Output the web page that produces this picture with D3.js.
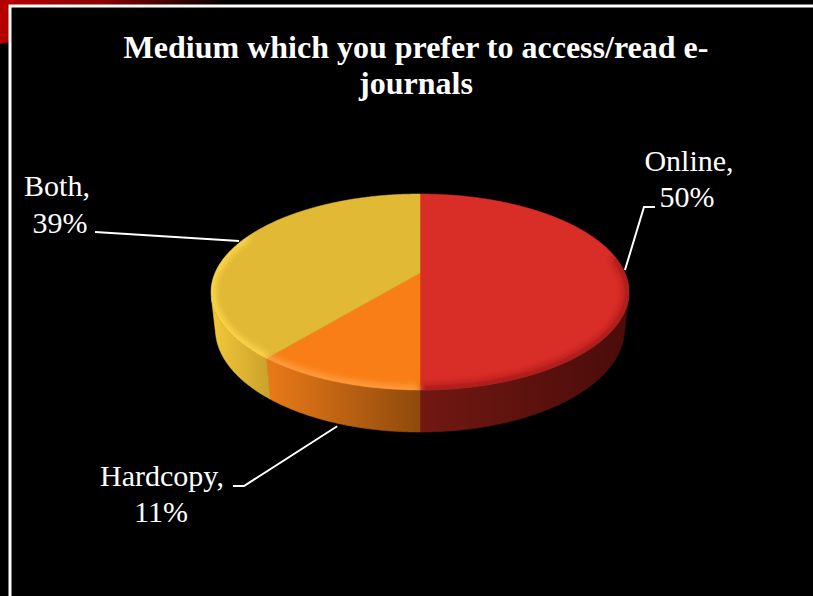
<!DOCTYPE html>
<html><head><meta charset="utf-8">
<script src="https://cdn.jsdelivr.net/npm/d3@7"></script>
<style>html,body{margin:0;padding:0;background:#000;overflow:hidden}</style>
</head><body>
<svg id="chart" width="813" height="596"></svg>
<script>
// ---- data ----
const titleLines = ["Medium which you prefer to access/read e-", "journals"];
const categories = ["Online", "Hardcopy", "Both"];
const values = [50, 11, 39];
const percentLabels = ["50%", "11%", "39%"];
const topColors = ["#d92d27", "#f97e17", "#e2b935"];
const sideColorsLight = ["#721812", "#ea7a18", "#f3c83b"];
const sideColorsDark = ["#4a0c0a", "#8e4a0c", "#cda42b"];
const rimColors = ["#9a1915", "#ffa448", "#ffdc50"];

// ---- layout ----
const W = 813, H0 = 596;
const svg = d3.select("#chart");
const defs = svg.append("defs");

// slide background corner
const cg = defs.append("linearGradient").attr("id", "corner").attr("gradientUnits", "userSpaceOnUse")
  .attr("x1", 0).attr("y1", 0).attr("x2", 220).attr("y2", 40);
cg.append("stop").attr("offset", 0).attr("stop-color", "#b80000");
cg.append("stop").attr("offset", 0.45).attr("stop-color", "#8a0000");
cg.append("stop").attr("offset", 1).attr("stop-color", "#000");
svg.append("rect").attr("width", W).attr("height", H0).attr("fill", "#000");
svg.append("path").attr("d", "M0,0L240,0L0,44Z").attr("fill", "url(#corner)");
svg.append("rect").attr("x", 10).attr("y", 6).attr("width", 900).attr("height", 700)
  .attr("fill", "#000").attr("stroke", "#fff").attr("stroke-width", 3);

// title
const title = svg.append("text").attr("text-anchor", "middle")
  .attr("font-family", "'Liberation Serif','Times New Roman',serif")
  .attr("font-weight", "bold").attr("font-size", 32).attr("fill", "#fff");
title.selectAll("tspan").data(titleLines).join("tspan")
  .attr("x", 416).attr("y", (d, i) => 58 + i * 36).text(d => d);

// ---- 3D pie projection ----
const cx = 420, cy0 = 273;
const R = 0.2185, Dcam = 1, f = 938, phi = 27.4 * Math.PI / 180, depth = 0.0446;
function proj(theta, rf, h) {
  const u = R * rf * Math.sin(theta), v = R * rf * Math.cos(theta);
  const yc = v * Math.sin(phi) + h * Math.cos(phi);
  const zc = Dcam + v * Math.cos(phi) - h * Math.sin(phi);
  return [cx + f * u / zc, cy0 - f * yc / zc];
}
function arcPts(a0, a1, rf, h) {
  const n = Math.max(2, Math.ceil(Math.abs(a1 - a0) / (0.5 * Math.PI / 180)));
  return d3.range(n + 1).map(i => proj(a0 + (a1 - a0) * i / n, rf, h));
}
const line = d3.line();
const pie = d3.pie().sort(null).startAngle(0).endAngle(2 * Math.PI);
const arcs = pie(values);

const thetaS = Math.acos(-R / (Dcam * Math.cos(phi)));
const visA = thetaS, visB = 2 * Math.PI - thetaS;

// side gradients
arcs.forEach((a, i) => {
  const p0 = proj(Math.max(a.startAngle, visA), 1, 0), p1 = proj(Math.min(a.endAngle, visB), 1, 0);
  const g = defs.append("linearGradient").attr("id", "side" + i).attr("gradientUnits", "userSpaceOnUse")
    .attr("x1", Math.min(p0[0], p1[0])).attr("y1", 0).attr("x2", Math.max(p0[0], p1[0])).attr("y2", 0);
  const leftIsLight = i !== 0;
  g.append("stop").attr("offset", 0).attr("stop-color", leftIsLight ? sideColorsLight[i] : sideColorsLight[i]);
  g.append("stop").attr("offset", 1).attr("stop-color", sideColorsDark[i]);
});

const pieG = svg.append("g");
// sides
arcs.forEach((a, i) => {
  const s = Math.max(a.startAngle, visA), e = Math.min(a.endAngle, visB);
  if (e <= s) return;
  const pts = arcPts(s, e, 1, 0).concat(arcPts(e, s, 1, -depth));
  pieG.append("path").attr("d", line(pts) + "Z").attr("fill", "url(#side" + i + ")")
    .attr("stroke", "url(#side" + i + ")").attr("stroke-width", 0.6);
});
// top faces
const clip = defs.append("clipPath").attr("id", "topclip");
arcs.forEach((a, i) => {
  const pts = [proj(0, 0, 0)].concat(arcPts(a.startAngle, a.endAngle, 1, 0));
  const d = line(pts) + "Z";
  pieG.append("path").attr("d", d).attr("fill", topColors[i]).attr("stroke", topColors[i]).attr("stroke-width", 0.6);
  clip.append("path").attr("d", d);
});
// bevel rim
defs.append("filter").attr("id", "blur").attr("x", -0.2).attr("y", -0.2).attr("width", 1.4).attr("height", 1.4)
  .append("feGaussianBlur").attr("stdDeviation", 3);
const rimG = pieG.append("g").attr("clip-path", "url(#topclip)");
arcs.forEach((a, i) => {
  const s = Math.max(a.startAngle, 80 * Math.PI / 180), e = Math.min(a.endAngle, 295 * Math.PI / 180);
  if (e <= s) return;
  rimG.append("path").attr("d", line(arcPts(s, e, 1, 0))).attr("fill", "none")
    .attr("stroke", rimColors[i]).attr("stroke-width", 9).attr("opacity", 0.85)
    .attr("filter", "url(#blur)");
});

// ---- labels & leader lines ----
const labelFont = "'Liberation Serif','Times New Roman',serif";
const labelLayout = [
  { l1: [689, 171], l2: [687, 207], path: [[644, 207], [655, 207]], h: 0, dy: -3 },
  { l1: [162, 486], l2: [161, 522], path: [[244, 486], [233, 486]], h: -depth, dy: 3 },
  { l1: [57, 196], l2: [60, 233], path: [[95, 232]], h: 0, dy: -2 }
];
arcs.forEach((a, i) => {
  const L = labelLayout[i];
  const mid = (a.startAngle + a.endAngle) / 2;
  const anchor = proj(mid, 1, L.h);
  anchor[1] += L.dy;
  svg.append("path").attr("d", line([anchor].concat(L.path))).attr("fill", "none")
    .attr("stroke", "#fff").attr("stroke-width", 2);
  const t = svg.append("text").attr("text-anchor", "middle").attr("font-family", labelFont)
    .attr("font-size", 30).attr("fill", "#fff");
  t.append("tspan").attr("x", L.l1[0]).attr("y", L.l1[1]).text(categories[i] + ",");
  t.append("tspan").attr("x", L.l2[0]).attr("y", L.l2[1]).text(percentLabels[i]);
});
</script>
</body></html>
